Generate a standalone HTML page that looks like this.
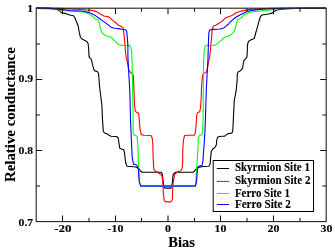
<!DOCTYPE html>
<html><head><meta charset="utf-8"><style>
html,body{margin:0;padding:0;background:#fff;}
body{width:335px;height:251px;overflow:hidden;}
svg{display:block;will-change:transform;}
text{stroke:#000;stroke-width:0.12px;}
</style></head><body>
<svg width="335" height="251" viewBox="0 0 335 251">
<rect width="335" height="251" fill="#fff"/>
<g fill="none" stroke-width="1.1" stroke-linejoin="round" stroke-linecap="butt">
<path d="M36.0,8.0 L50.0,8.3 L55.0,8.9 L58.6,10.0 L60.4,11.6 L62.2,13.3 L64.0,13.1 L67.0,14.0 L70.5,15.2 L73.5,15.8 L74.7,17.5 L76.5,21.7 L78.3,26.5 L79.2,32.2 L80.4,37.0 L81.6,38.7 L84.0,40.0 L87.0,41.7 L88.1,43.5 L88.7,48.9 L89.0,56.6 L90.2,58.4 L91.4,59.6 L92.5,64.3 L93.7,69.1 L94.9,70.9 L97.3,71.5 L98.5,73.3 L99.1,80.0 L99.6,87.0 L100.8,96.5 L101.9,105.0 L102.4,118.0 L103.3,131.4 L104.6,133.0 L107.0,133.8 L108.5,134.9 L111.0,136.2 L116.5,136.5 L118.1,137.7 L118.9,142.5 L119.7,148.1 L121.3,148.9 L123.7,149.7 L124.5,152.9 L125.3,160.0 L125.8,163.0 L127.0,166.2 L130.9,166.5 L135.7,167.0 L138.9,168.5 L140.5,171.0 L142.1,172.2 L146.9,172.3 L161.0,172.2 L162.2,173.6 L163.2,181.9 L164.0,187.3 L165.2,188.1 L171.0,188.1 L172.3,182.9 L173.1,174.6 L174.6,172.8 L176.0,172.3 L193.4,172.2 L195.4,169.8 L197.0,168.0 L199.6,167.1 L202.9,166.5 L208.9,166.3 L210.1,164.1 L210.7,156.9 L211.3,151.6 L212.5,149.2 L214.3,148.0 L215.4,146.8 L216.3,145.0 L216.9,139.3 L218.1,136.7 L221.7,136.3 L224.7,136.1 L226.5,134.6 L228.9,133.4 L231.9,133.1 L232.7,131.0 L233.1,125.0 L233.4,117.9 L234.3,100.0 L235.3,95.3 L236.3,89.3 L237.1,81.0 L237.3,74.0 L238.5,71.6 L240.5,70.7 L242.5,68.6 L243.3,63.5 L244.1,60.2 L245.7,58.6 L246.8,57.4 L247.2,53.6 L247.4,45.3 L248.4,41.5 L250.7,39.9 L254.3,38.4 L255.7,33.0 L257.8,25.9 L259.2,20.3 L260.6,16.3 L262.0,15.0 L265.0,14.5 L268.6,14.0 L272.2,13.1 L274.0,11.4 L276.9,10.0 L281.7,9.2 L288.9,8.6 L300.0,8.2 L326.0,8.0" stroke="#000"/>
<path d="M36.0,8.0 L60.0,8.4 L80.0,9.4 L87.2,10.0 L91.9,10.4 L96.7,11.6 L100.3,14.0 L103.9,16.0 L108.7,16.9 L112.7,20.4 L115.8,22.7 L118.2,25.0 L121.3,26.6 L123.1,27.8 L123.7,31.9 L124.3,37.9 L124.9,43.9 L125.5,52.2 L126.1,56.9 L127.3,61.7 L128.5,68.9 L129.3,70.5 L130.5,72.4 L132.9,74.2 L133.5,77.2 L133.9,87.9 L134.1,95.0 L134.7,106.9 L135.3,111.1 L136.5,112.3 L138.3,112.9 L138.9,115.3 L139.5,122.5 L140.1,129.6 L141.3,134.6 L143.9,135.3 L151.0,135.5 L152.2,137.9 L152.8,143.9 L153.1,156.9 L153.7,168.9 L155.4,171.3 L157.2,171.8 L158.7,173.3 L161.0,174.6 L162.2,176.6 L162.8,181.9 L163.4,193.9 L164.3,200.8 L165.9,201.9 L170.7,201.9 L172.3,200.0 L172.7,188.9 L173.4,180.9 L174.7,174.5 L175.0,174.1 L177.4,171.8 L180.6,171.0 L182.2,167.7 L182.6,163.0 L182.8,150.0 L183.4,140.3 L184.6,135.5 L186.9,135.2 L194.1,135.2 L195.3,133.1 L195.9,127.2 L196.5,120.0 L196.7,115.1 L197.9,112.4 L199.7,111.7 L200.5,107.9 L201.3,96.0 L201.4,90.0 L201.7,83.9 L202.3,77.9 L202.9,74.3 L204.7,73.1 L206.5,71.9 L207.7,67.2 L208.9,60.0 L209.5,58.9 L210.7,46.9 L211.5,38.0 L212.3,28.5 L213.5,26.1 L216.5,25.0 L218.9,23.3 L220.1,22.6 L222.9,20.5 L225.0,18.3 L227.8,16.9 L230.6,15.9 L233.4,14.8 L236.2,12.8 L239.0,11.7 L243.1,10.6 L247.3,9.9 L252.9,9.2 L260.0,8.9 L270.0,8.4 L326.0,8.0" stroke="#ff0000"/>
<path d="M36.0,8.5 L50.0,8.9 L58.0,9.5 L62.9,10.3 L70.0,11.2 L80.0,11.7 L84.0,12.0 L88.1,13.4 L92.3,16.2 L95.1,18.8 L97.9,19.7 L99.3,23.1 L100.7,30.1 L102.1,32.7 L104.9,35.3 L107.6,36.2 L110.0,36.7 L111.1,37.3 L113.5,39.7 L115.9,42.1 L118.3,44.5 L120.7,45.3 L125.5,45.4 L129.6,45.6 L130.8,47.4 L131.7,52.2 L132.1,62.9 L132.3,72.5 L132.6,88.0 L132.8,100.0 L133.1,120.0 L133.1,131.9 L134.1,134.9 L136.1,135.5 L137.3,137.3 L137.7,143.9 L138.1,150.0 L138.4,162.9 L138.7,168.9 L139.1,175.0 L139.4,181.9 L140.7,185.9 L195.4,185.9 L196.3,175.0 L196.9,165.3 L197.5,156.9 L198.1,145.0 L198.3,137.9 L199.5,135.5 L201.9,134.9 L202.5,131.9 L203.1,120.0 L203.3,90.0 L203.6,60.0 L204.0,55.0 L204.3,50.0 L205.3,45.9 L207.1,45.4 L210.7,45.5 L214.5,45.2 L217.3,43.7 L221.5,40.2 L225.0,37.0 L228.5,36.3 L231.3,34.5 L233.4,32.2 L234.8,30.1 L236.2,24.5 L237.6,19.8 L239.0,19.0 L241.7,17.6 L243.1,15.5 L245.9,14.1 L248.7,12.7 L252.9,11.7 L258.5,11.3 L265.0,10.6 L270.0,9.9 L277.0,9.0 L285.0,8.5 L295.0,8.2 L326.0,8.0" stroke="#00ff00"/>
<path d="M36.0,8.0 L50.0,8.4 L58.0,9.1 L70.0,10.5 L80.0,11.0 L84.0,11.3 L87.2,12.1 L90.9,13.3 L95.3,15.6 L99.2,18.3 L103.1,21.1 L107.9,24.6 L111.0,27.2 L114.6,28.3 L120.0,28.9 L121.9,29.3 L125.5,29.8 L126.7,31.3 L127.3,37.9 L127.9,45.0 L127.9,56.9 L128.5,68.9 L129.3,81.9 L129.9,93.9 L130.5,120.0 L131.3,137.9 L131.6,145.0 L132.2,156.9 L133.4,164.1 L136.3,164.7 L137.5,166.5 L138.1,168.9 L138.4,170.0 L139.3,181.9 L140.7,186.1 L195.4,186.1 L196.5,182.1 L197.3,170.9 L198.1,167.0 L199.7,166.0 L202.1,165.2 L202.9,161.4 L203.5,152.2 L204.1,145.0 L204.9,131.9 L205.4,120.0 L206.3,90.0 L207.2,72.0 L208.0,58.0 L208.3,46.9 L208.6,38.0 L208.9,32.5 L209.8,30.0 L212.9,29.4 L216.8,29.2 L220.1,29.0 L224.3,27.7 L226.0,26.2 L228.5,24.0 L230.6,21.7 L233.4,19.2 L236.2,17.0 L239.0,15.5 L241.7,14.1 L245.9,12.1 L250.1,10.7 L255.7,9.9 L265.0,9.0 L275.0,8.5 L285.0,8.2 L326.0,8.0" stroke="#0000ff"/>
<path d="M141.2,185.9 H195" stroke="#2a6ee6" stroke-width="1.3"/>
</g>
<rect x="36.2" y="8.2" width="290.0" height="213.4" fill="none" stroke="#222" stroke-width="1.1"/>
<path d="M62.5,221.6 V215.6 M62.5,8.2 V14.2 M89.0,221.6 V218.1 M89.0,8.2 V11.7 M115.5,221.6 V215.6 M115.5,8.2 V14.2 M141.5,221.6 V218.1 M141.5,8.2 V11.7 M168.0,221.6 V215.6 M168.0,8.2 V14.2 M194.5,221.6 V218.1 M194.5,8.2 V11.7 M220.5,221.6 V215.6 M220.5,8.2 V14.2 M247.0,221.6 V218.1 M247.0,8.2 V11.7 M273.5,221.6 V215.6 M273.5,8.2 V14.2 M300.0,221.6 V218.1 M300.0,8.2 V11.7 M36.2,186.0 H40.0 M326.2,186.0 H322.4 M36.2,150.5 H42.2 M326.2,150.5 H320.2 M36.2,115.0 H40.0 M326.2,115.0 H322.4 M36.2,79.5 H42.2 M326.2,79.5 H320.2 M36.2,44.0 H40.0 M326.2,44.0 H322.4" stroke="#111" stroke-width="1.05" fill="none"/>
<rect x="213.2" y="160.5" width="100.3" height="51.0" fill="#fff" stroke="#000" stroke-width="1.0"/>
<path d="M216.8,168.5 H229.1" stroke="#000000" stroke-width="1.0" fill="none"/>
<text x="234.90" y="171.40" textLength="75.00" lengthAdjust="spacingAndGlyphs" font-family="Liberation Serif" font-weight="bold" font-size="11.8">Skyrmion Site 1</text>
<path d="M216.8,181.4 H229.1" stroke="#ff0000" stroke-width="1.0" fill="none"/>
<text x="234.90" y="183.80" textLength="75.60" lengthAdjust="spacingAndGlyphs" font-family="Liberation Serif" font-weight="bold" font-size="11.8">Skyrmion Site 2</text>
<path d="M216.8,193.5 H229.1" stroke="#00ff00" stroke-width="1.0" fill="none"/>
<text x="234.90" y="196.60" textLength="55.00" lengthAdjust="spacingAndGlyphs" font-family="Liberation Serif" font-weight="bold" font-size="11.8">Ferro Site 1</text>
<path d="M216.8,204.5 H229.1" stroke="#0000ff" stroke-width="1.0" fill="none"/>
<text x="234.90" y="208.00" textLength="55.90" lengthAdjust="spacingAndGlyphs" font-family="Liberation Serif" font-weight="bold" font-size="11.8">Ferro Site 2</text>

<text x="62.90" y="232.40" text-anchor="middle" textLength="17.29" lengthAdjust="spacingAndGlyphs" font-family="Liberation Serif" font-weight="bold" font-size="10.8">-20</text>
<text x="115.50" y="232.40" text-anchor="middle" textLength="15.85" lengthAdjust="spacingAndGlyphs" font-family="Liberation Serif" font-weight="bold" font-size="10.8">-10</text>
<text x="168.00" y="232.40" text-anchor="middle" textLength="5.95" lengthAdjust="spacingAndGlyphs" font-family="Liberation Serif" font-weight="bold" font-size="10.8">0</text>
<text x="220.50" y="232.40" text-anchor="middle" textLength="11.88" lengthAdjust="spacingAndGlyphs" font-family="Liberation Serif" font-weight="bold" font-size="10.8">10</text>
<text x="273.50" y="232.40" text-anchor="middle" textLength="11.88" lengthAdjust="spacingAndGlyphs" font-family="Liberation Serif" font-weight="bold" font-size="10.8">20</text>
<text x="326.40" y="232.40" text-anchor="middle" textLength="11.88" lengthAdjust="spacingAndGlyphs" font-family="Liberation Serif" font-weight="bold" font-size="10.8">30</text>

<text x="33.20" y="11.70" text-anchor="end" textLength="5.84" lengthAdjust="spacingAndGlyphs" font-family="Liberation Serif" font-weight="bold" font-size="10.8">1</text>
<text x="33.20" y="82.40" text-anchor="end" textLength="14.58" lengthAdjust="spacingAndGlyphs" font-family="Liberation Serif" font-weight="bold" font-size="10.8">0.9</text>
<text x="33.20" y="154.20" text-anchor="end" textLength="14.58" lengthAdjust="spacingAndGlyphs" font-family="Liberation Serif" font-weight="bold" font-size="10.8">0.8</text>
<text x="33.20" y="225.60" text-anchor="end" textLength="14.58" lengthAdjust="spacingAndGlyphs" font-family="Liberation Serif" font-weight="bold" font-size="10.8">0.7</text>

<text x="168.30" y="246.50" textLength="26.60" lengthAdjust="spacingAndGlyphs" font-family="Liberation Serif" font-weight="bold" font-size="14.3">Bias</text>
<text transform="translate(14.8,182.0) rotate(-90)" x="0" y="0" textLength="134.8" lengthAdjust="spacingAndGlyphs" font-family="Liberation Serif" font-weight="bold" font-size="14.3">Relative conductance</text>

</svg>
</body></html>
